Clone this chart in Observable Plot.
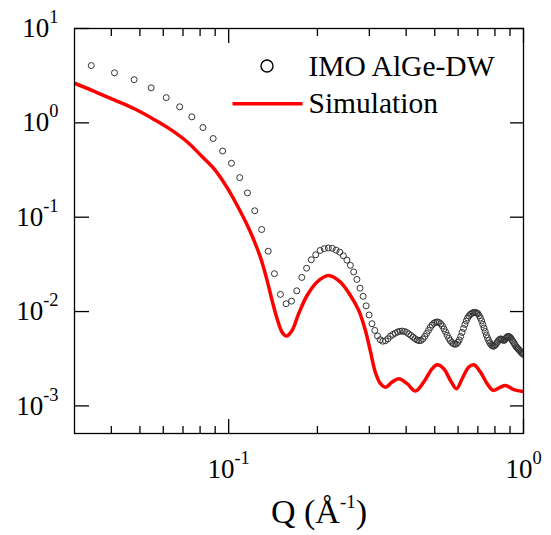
<!DOCTYPE html>
<html><head><meta charset="utf-8">
<script src="https://cdn.jsdelivr.net/npm/d3@7"></script>
<script src="https://cdn.jsdelivr.net/npm/@observablehq/plot@0.6"></script>
<style>html,body{margin:0;padding:0;background:#fff}#chart{width:551px;height:535px}</style>
</head><body><div id="chart"></div>
<script>
// Measured data (IMO AlGe-DW): Q (1/Å) and intensity
const dataQ = [0.0342,0.0410,0.0478,0.0546,0.0614,0.0682,0.0750,0.0818,0.0886,0.0954,0.1022,0.1090,0.1158,0.1226,0.1294,0.1362,0.1430,0.1498,0.1566,0.1634,0.1702,0.1770,0.1838,0.1906,0.1974,0.2042,0.2110,0.2178,0.2246,0.2314,0.2382,0.2450,0.2518,0.2586,0.2654,0.2722,0.2790,0.2858,0.2926,0.2994,0.3062,0.3130,0.3198,0.3266,0.3334,0.3402,0.3470,0.3538,0.3606,0.3674,0.3742,0.3810,0.3878,0.3946,0.4014,0.4082,0.4150,0.4218,0.4286,0.4354,0.4422,0.4490,0.4558,0.4626,0.4694,0.4762,0.4830,0.4898,0.4966,0.5034,0.5102,0.5170,0.5238,0.5306,0.5374,0.5442,0.5510,0.5578,0.5646,0.5714,0.5782,0.5850,0.5918,0.5986,0.6054,0.6122,0.6190,0.6258,0.6326,0.6394,0.6462,0.6530,0.6598,0.6666,0.6734,0.6802,0.6870,0.6938,0.7006,0.7074,0.7142,0.7210,0.7278,0.7346,0.7414,0.7482,0.7550,0.7618,0.7686,0.7754,0.7822,0.7890,0.7958,0.8026,0.8094,0.8162,0.8230,0.8298,0.8366,0.8434,0.8502,0.8570,0.8638,0.8706,0.8774,0.8842,0.8910,0.8978,0.9046,0.9114,0.9182,0.9250,0.9318,0.9386,0.9454,0.9522,0.9590,0.9658,0.9726,0.9794,0.9862,0.9930,0.9998];
const dataI = [4.05,3.39,2.87,2.35,1.85,1.48,1.158,0.892,0.682,0.503,0.373,0.263,0.181,0.117,0.0741,0.0436,0.0252,0.0152,0.0121,0.0129,0.0166,0.0230,0.0288,0.0354,0.0400,0.0444,0.0464,0.0472,0.0468,0.0447,0.0426,0.0390,0.0351,0.0309,0.0263,0.0219,0.0177,0.0145,0.0115,0.0092,0.00743,0.00631,0.00551,0.00503,0.00485,0.00491,0.00515,0.00549,0.00572,0.00589,0.00608,0.00618,0.00621,0.00615,0.00601,0.00579,0.00558,0.00536,0.00516,0.00500,0.00492,0.00494,0.00513,0.00545,0.00586,0.00631,0.00679,0.00721,0.00752,0.00770,0.00776,0.00766,0.00743,0.00704,0.00654,0.00608,0.00561,0.00521,0.00492,0.00471,0.00456,0.00450,0.00454,0.00471,0.00500,0.00545,0.00601,0.00662,0.00730,0.00795,0.00855,0.00898,0.00932,0.00954,0.00971,0.00978,0.00978,0.00966,0.00948,0.00909,0.00855,0.00795,0.00730,0.00670,0.00615,0.00565,0.00525,0.00492,0.00467,0.00448,0.00435,0.00429,0.00432,0.00443,0.00459,0.00476,0.00494,0.00506,0.00513,0.00509,0.00500,0.00494,0.00500,0.00519,0.00534,0.00545,0.00545,0.00538,0.00525,0.00506,0.00488,0.00471,0.00454,0.00437,0.00422,0.00412,0.00402,0.00392,0.00383,0.00373,0.00364,0.00358,0.00351];

// Simulation curve
const simQ = [0.0300,0.0350,0.0409,0.0479,0.0560,0.0638,0.0726,0.0806,0.0894,0.0988,0.1096,0.1185,0.1281,0.1350,0.1404,0.1460,0.1518,0.1570,0.1641,0.1727,0.1845,0.1995,0.2184,0.2393,0.2588,0.2761,0.2910,0.3026,0.3146,0.3272,0.3402,0.3585,0.3775,0.4030,0.4300,0.4589,0.4900,0.5096,0.5366,0.5654,0.5926,0.6194,0.6522,0.6782,0.7146,0.7529,0.7892,0.8356,0.8688,0.9271,1.0];
const simI = [2.63,2.16,1.75,1.41,1.08,0.843,0.623,0.450,0.324,0.206,0.115,0.0697,0.0377,0.0214,0.0131,0.00839,0.00605,0.00551,0.00631,0.00948,0.0148,0.0206,0.0241,0.0205,0.0148,0.0103,0.00631,0.00378,0.00226,0.00172,0.00158,0.00179,0.00194,0.00172,0.00144,0.00179,0.00248,0.00273,0.00248,0.00186,0.00152,0.00194,0.00258,0.00273,0.00228,0.00172,0.00146,0.00158,0.00165,0.00149,0.00142];

// Ticks and labels
const xMajor = [0.1, 1];
const xMinor = [0.04,0.05,0.06,0.07,0.08,0.09,0.2,0.3,0.4,0.5,0.6,0.7,0.8,0.9];
const yMajor = [1e-3, 1e-2, 1e-1, 1, 10];
const xLabel = "Q (Å^-1)";
const seriesNames = ["IMO AlGe-DW", "Simulation"];

const expData = dataQ.map((q, k) => ({q, i: dataI[k]}));
const sim = simQ.map((q, k) => ({q, i: simI[k]}));
const fmt = d => "10^" + Math.round(Math.log10(d));
const blank = () => "";
const lineSymbol = {draw(ctx) { ctx.moveTo(-35, 0); ctx.lineTo(35, 0); }};
const FONT = "'Liberation Serif','Times New Roman',serif";

const svg = Plot.plot({
  width: 551, height: 535,
  marginLeft: 74, marginRight: 28, marginTop: 28, marginBottom: 102,
  style: {fontFamily: FONT, background: "white", color: "black", fontSize: "27px"},
  x: {type: "log", domain: [0.03, 1]},
  y: {type: "log", domain: [5.1e-4, 10]},
  marks: [
    Plot.line(sim, {x: "q", y: "i", stroke: "#ff0000", strokeWidth: 3.5, curve: "catmull-rom", clip: true}),
    Plot.dot(expData, {x: "q", y: "i", r: 3, stroke: "#333", strokeWidth: 1, fill: "none", clip: true}),
    Plot.axisX(xMajor, {anchor: "bottom", tickSize: -14, tickPadding: 39, tickFormat: fmt, label: null, fontSize: 27, strokeWidth: 1.3}),
    Plot.axisX(xMinor, {anchor: "bottom", tickSize: -7, tickFormat: blank, label: null, strokeWidth: 1.3}),
    Plot.axisX(xMajor, {anchor: "top", tickSize: -14, tickFormat: blank, label: null, strokeWidth: 1.3}),
    Plot.axisX(xMinor, {anchor: "top", tickSize: -7, tickFormat: blank, label: null, strokeWidth: 1.3}),
    Plot.axisY(yMajor, {anchor: "left", tickSize: -15, tickPadding: 31, tickFormat: fmt, label: null, fontSize: 27, strokeWidth: 1.3}),
    Plot.axisY(yMajor, {anchor: "right", tickSize: -14, tickFormat: blank, label: null, strokeWidth: 1.3}),
    Plot.frame({stroke: "black", strokeWidth: 1.3}),
    Plot.text([xLabel], {x: null, y: null, frameAnchor: "bottom", lineAnchor: "middle", dx: 20, dy: 79, fontSize: 34, text: d => d}),
    // legend
    Plot.dot([0], {x: null, y: null, frameAnchor: "top-left", dx: 192.5, dy: 37.5, r: 6, stroke: "black", strokeWidth: 1.4, fill: "none"}),
    Plot.text([seriesNames[0]], {x: null, y: null, frameAnchor: "top-left", lineAnchor: "middle", dx: 234, dy: 37.6, textAnchor: "start", fontSize: 29.5, text: d => d}),
    Plot.dot([0], {x: null, y: null, frameAnchor: "top-left", dx: 193, dy: 75.3, symbol: lineSymbol, stroke: "#ff0000", strokeWidth: 3.5, fill: "none"}),
    Plot.text([seriesNames[1]], {x: null, y: null, frameAnchor: "top-left", lineAnchor: "middle", dx: 234, dy: 75.1, textAnchor: "start", fontSize: 29.5, text: d => d})
  ]
});
document.getElementById("chart").appendChild(svg);

// turn "a^b" into a superscript
const NS = "http://www.w3.org/2000/svg";
svg.querySelectorAll("text").forEach(t => {
  const m = t.textContent.match(/^(.*?)\^(-?\d+)(.*)$/);
  if (!m) return;
  const fs = parseFloat(getComputedStyle(t).fontSize) || 27;
  const big = fs > 30;
  const ratio = big ? 0.56 : 0.68, raise = big ? 0.44 : 0.52;
  t.textContent = "";
  const a = document.createElementNS(NS, "tspan"); a.textContent = m[1]; t.appendChild(a);
  const e = document.createElementNS(NS, "tspan"); e.textContent = m[2];
  e.setAttribute("font-size", (fs * ratio).toFixed(1)); e.setAttribute("dy", (-fs * raise).toFixed(1));
  t.appendChild(e);
  if (m[3]) {
    const r = document.createElementNS(NS, "tspan"); r.textContent = m[3];
    r.setAttribute("dy", (fs * raise).toFixed(1)); t.appendChild(r);
  }
});
</script>
</body></html>
